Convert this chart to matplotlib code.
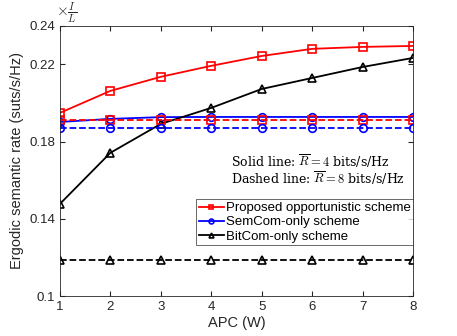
import numpy as np
import matplotlib
matplotlib.use("Agg")
import matplotlib.pyplot as plt

plt.rcParams['font.family'] = ['Liberation Sans', 'DejaVu Sans']
plt.rcParams['mathtext.fontset'] = 'cm'

# data
apc = [1, 2, 3, 4, 5, 6, 7, 8]
prop_r4 = [0.1949, 0.2063, 0.2136, 0.2193, 0.2244, 0.2281, 0.2291, 0.2296]
prop_r8 = [0.1913, 0.1913, 0.1913, 0.1913, 0.1913, 0.1913, 0.1913, 0.1913]
sem_r4 = [0.1902, 0.1918, 0.1927, 0.1928, 0.1928, 0.1928, 0.1928, 0.1928]
sem_r8 = [0.1871, 0.1871, 0.1871, 0.1871, 0.1871, 0.1871, 0.1871, 0.1871]
bit_r4 = [0.1477, 0.1742, 0.1892, 0.1975, 0.2073, 0.2130, 0.2187, 0.2234]
bit_r8 = [0.1187, 0.1187, 0.1187, 0.1187, 0.1187, 0.1187, 0.1187, 0.1187]
yticks = [0.1, 0.14, 0.18, 0.22, 0.24]
ytick_labels = ['0.1', '0.14', '0.18', '0.22', '0.24']
note = ('Solid line: $\\overline{R}=4$ bits/s/Hz\n'
        'Dashed line: $\\overline{R}=8$ bits/s/Hz')

fig = plt.figure(figsize=(4.57, 3.36), dpi=100)
ax = fig.add_axes([0.131, 0.119, 0.773, 0.804])

mk = dict(markersize=5.5, markerfacecolor='none', markeredgewidth=1.2, linewidth=1.3)
ax.plot(apc, prop_r4, '-s', color='red', label='Proposed opportunistic scheme', **mk)
ax.plot(apc, sem_r4, '-o', color='blue', label='SemCom-only scheme', **mk)
ax.plot(apc, bit_r4, '-^', color='black', label='BitCom-only scheme', **mk)
ax.plot(apc, prop_r8, '--s', color='red', **mk)
ax.plot(apc, sem_r8, '--o', color='blue', **mk)
ax.plot(apc, bit_r8, '--^', color='black', **mk)

ax.set_xlim(1, 8)
ax.set_ylim(0.1, 0.24)
ax.set_xticks(apc)
ax.set_yticks(yticks)
ax.set_yticklabels(ytick_labels)
ax.tick_params(direction='in', top=True, right=True, labelsize=9.5, colors='#262626', length=3.5)
for s in ax.spines.values():
    s.set_color('#262626')
    s.set_linewidth(0.6)
ax.set_xlabel('APC (W)', fontsize=10.5, color='#262626', labelpad=2)
ax.set_ylabel('Ergodic semantic rate (suts/s/Hz)', fontsize=10.5, color='#262626', labelpad=4)

ax.text(-0.01, 1.005, r'$\times\frac{I}{L}$', transform=ax.transAxes, fontsize=11, color='#262626',
        ha='left', va='bottom')
ax.text(0.485, 0.467, note, transform=ax.transAxes, fontsize=9, family='serif',
        math_fontfamily='cm', va='center', linespacing=0.95)

leg = ax.legend(loc='lower right', bbox_to_anchor=(1.0, 0.188), fontsize=9.5, frameon=True,
                fancybox=False, edgecolor='#262626', handlelength=1.9, handletextpad=0.15,
                borderpad=0.2, labelspacing=0.15, borderaxespad=0)
leg.get_frame().set_linewidth(0.6)
for h in leg.get_lines():
    h.set_markersize(3.5)

fig.savefig('out.png', dpi=100)
